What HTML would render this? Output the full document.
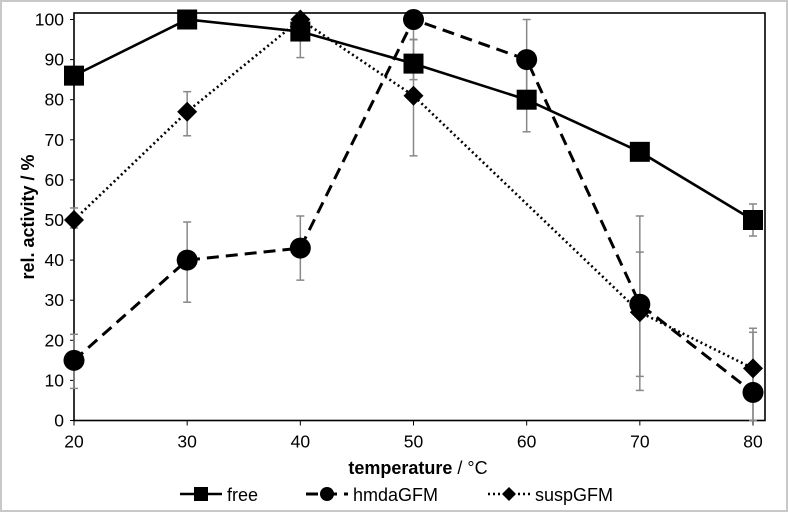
<!DOCTYPE html>
<html><head><meta charset="utf-8"><style>
body{margin:0;background:#fff;}
svg{display:block;font-family:"Liberation Sans",Arial,sans-serif;}
</style></head><body>
<svg id="chart" width="788" height="512">
<rect x="1" y="1" width="786" height="510" fill="#fff" stroke="#c8c8c8" stroke-width="2"/>
</svg>
<script>
const categories=[20,30,40,50,60,70,80];
const freeVals=[86,100,97,89,80,67,50];
const freeLo=[null,null,90.5,85,72,null,46];
const freeHi=[null,null,100,95,88,null,54];
const hmdaVals=[15,40,43,100,90,29,7];
const hmdaLo=[8,29.5,35,95,80,7.5,0];
const hmdaHi=[21.5,49.5,51,100,100,51,22];
const suspVals=[50,77,100,81,null,27,13];
const suspLo=[48,71,100,66,null,11,0];
const suspHi=[53,82,100,95,null,42,23];
const yTicks=[0,10,20,30,40,50,60,70,80,90,100];
const xTicks=[20,30,40,50,60,70,80];

const svg=document.getElementById('chart');
const NS='http://www.w3.org/2000/svg';
const L=74,R=753,T=13,B=420.5,RF=765;
const xs=v=>L+(v-20)/60*(R-L);
const ys=v=>B-v/100*(B-19.5);
function mk(tag,attrs,parent){const e=document.createElementNS(NS,tag);for(const k in attrs)e.setAttribute(k,attrs[k]);(parent||svg).appendChild(e);return e;}

const frame=mk('rect',{x:L,y:T,width:RF-L,height:B-T,fill:'none',stroke:'#000','stroke-width':1.6});



yTicks.forEach(t=>{
  const tk=mk('line',{x1:L-4,x2:L,y1:ys(t),y2:ys(t),stroke:'#000'});
  
  
  const tx=mk('text',{x:L-10,y:ys(t)+6,'text-anchor':'end','font-size':17.5,fill:'#000'});
  tx.textContent=t;
  
  
});
xTicks.forEach(t=>{
  const tk=mk('line',{x1:xs(t),x2:xs(t),y1:B,y2:B+5,stroke:'#000'});
  
  
  const tx=mk('text',{x:xs(t),y:B+27,'text-anchor':'middle','font-size':17.5,fill:'#000'});
  tx.textContent=t;
  
  
});
const xt=mk('text',{x:418,y:474,'text-anchor':'middle','font-size':18,'font-weight':'bold'});
xt.innerHTML='temperature<tspan font-weight="normal"> / °C</tspan>';


const yt=mk('text',{x:0,y:0,transform:'translate(34,217) rotate(-90)','text-anchor':'middle','font-size':18,'font-weight':'bold'});
yt.textContent='rel. activity / %';



function errs(lo,hi,name){
  categories.forEach((c,i)=>{
    if(lo[i]==null)return;
    const g=mk('g',{stroke:'#888','stroke-width':1.5});
    
    
    const x=xs(c);
    mk('line',{x1:x,x2:x,y1:ys(lo[i]),y2:ys(hi[i])},g);
    mk('line',{x1:x-4,x2:x+4,y1:ys(lo[i]),y2:ys(lo[i])},g);
    mk('line',{x1:x-4,x2:x+4,y1:ys(hi[i]),y2:ys(hi[i])},g);
  });
}
errs(freeLo,freeHi,'free');errs(hmdaLo,hmdaHi,'hmda');errs(suspLo,suspHi,'susp');

function line(vals,dash,w,name){
  const pts=[];categories.forEach((c,i)=>{if(vals[i]!=null)pts.push(xs(c)+','+ys(vals[i]));});
  const p=mk('polyline',{points:pts.join(' '),fill:'none',stroke:'#000','stroke-width':w,'stroke-dasharray':dash});
  
  
}
function marker(kind,x,y,parent){
  if(kind==='sq')return mk('rect',{x:x-10,y:y-10,width:20,height:20,fill:'#000'},parent);
  if(kind==='ci')return mk('circle',{cx:x,cy:y,r:10.5,fill:'#000'},parent);
  return mk('polygon',{points:`${x},${y-10} ${x+10},${y} ${x},${y+10} ${x-10},${y}`,fill:'#000'},parent);
}
function marks(vals,kind,name){
  categories.forEach((c,i)=>{
    if(vals[i]==null)return;
    const m=marker(kind,xs(c),ys(vals[i]));
    
    
  });
}
line(suspVals,'2 3',2.6,'susp');
line(hmdaVals,'12 7',3,'hmda');
line(freeVals,'',2.6,'free');
marks(suspVals,'di','susp');
marks(hmdaVals,'ci','hmda');
marks(freeVals,'sq','free');

const leg=[['free','',180,'sq',2.6],['hmdaGFM','12 7',306,'ci',3],['suspGFM','2 3',488,'di',2.6]];
leg.forEach(([lab,dash,x0,kind,w])=>{
  const g=mk('g',{});
  
  
  mk('line',{x1:x0,x2:x0+42,y1:494,y2:494,stroke:'#000','stroke-width':w,'stroke-dasharray':dash},g);
  const m=marker(kind,x0+21,494,g);
  if(kind==='sq'){m.setAttribute('x',x0+14);m.setAttribute('y',487);m.setAttribute('width',14);m.setAttribute('height',14);}
  if(kind==='ci')m.setAttribute('r',7);
  if(kind==='di')m.setAttribute('points',`${x0+21},${487} ${x0+28},494 ${x0+21},501 ${x0+14},494`);
  const t=mk('text',{x:x0+47,y:501,'font-size':18},g);
  t.textContent=lab;
});
</script>
</body></html>
